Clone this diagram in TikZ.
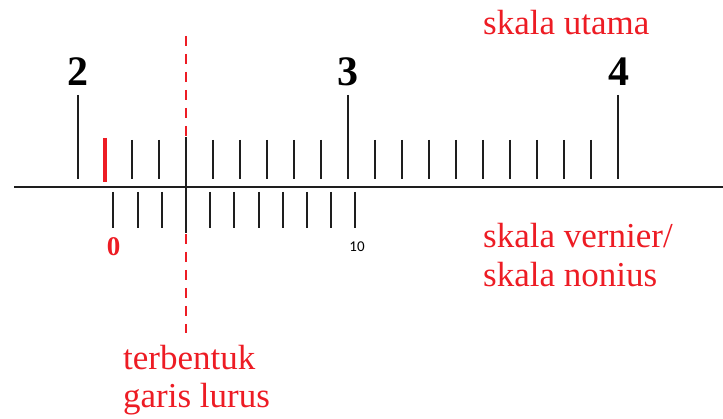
\documentclass[tikz,border=0pt]{standalone}
\usepackage{fontspec}
\setmainfont{Liberation Serif}
\newfontfamily\tnrfont{Liberation Serif}
\newfontfamily\calfont{Carlito}
\definecolor{vred}{RGB}{237,28,36}
\definecolor{tickgray}{RGB}{30,30,30}
\tikzset{
  mainline/.style={line width=2pt, draw=tickgray},
  tickline/.style={line width=2pt, draw=tickgray},
  redtick/.style={line width=4pt, draw=vred},
  redguide/.style={line width=2pt, draw=vred, dash pattern=on 10pt off 8pt},
  bignum/.style={font=\tnrfont\fontsize{42}{42}\selectfont\bfseries, inner sep=0pt},
  redtxt/.style={font=\tnrfont\fontsize{35}{39}\selectfont, text=vred, inner sep=0pt, anchor=base west},
}
\begin{document}
\begin{tikzpicture}[x=1pt,y=-1pt]
\useasboundingbox (0,0) rectangle (723,419);
% guide dashed line
\coordinate (gtop) at (185.5,36);
\coordinate (gbot) at (185.5,333);
\draw[redguide] (gtop) -- (gbot);
% main scale line
\coordinate (ls) at (14,187);
\coordinate (le) at (723,187);
\draw[mainline] (ls) -- (le);
% main scale ticks
\foreach \i in {0,...,20}{
  \pgfmathsetmacro{\xx}{77.5+27*\i}
  \ifnum\i=0
    \draw[tickline] (\xx,95) -- (\xx,179);
  \else\ifnum\i=10
    \draw[tickline] (\xx,95) -- (\xx,179);
  \else\ifnum\i=20
    \draw[tickline] (\xx,95) -- (\xx,179);
  \else\ifnum\i=1
    \draw[redtick] (\xx,138) -- (\xx,182);
  \else\ifnum\i=4
  \else
    \draw[tickline] (\xx,140) -- (\xx,179);
  \fi\fi\fi\fi\fi
}
% coinciding line
\draw[tickline] (185.5,137) -- (185.5,233);
% vernier ticks
\foreach \j in {0,1,2,4,5,6,7,8,9,10}{
  \pgfmathsetmacro{\xx}{113.3+24.2*\j}
  \draw[tickline] (\xx,192) -- (\xx,228);
}
% numbers
\node[bignum] (n2) at (77.5,72) {2};
\node[bignum] (n3) at (347.5,72) {3};
\node[bignum] (n4) at (619,72) {4};
\node[font=\tnrfont\fontsize{27}{27}\selectfont\bfseries, text=vred, inner sep=0pt] (v0) at (113.5,247) {0};
\node[font=\calfont\fontsize{15}{15}\selectfont, inner sep=0pt] (v10) at (357,247) {10};
% labels
\node[redtxt] (su) at (483,35) {skala utama};
\node[redtxt] (sv1) at (483,248) {skala vernier/};
\node[redtxt] (sv2) at (483,287) {skala nonius};
\node[redtxt] (tb1) at (123,370) {terbentuk};
\node[redtxt] (tb2) at (123,408) {garis lurus};
\end{tikzpicture}
\end{document}
